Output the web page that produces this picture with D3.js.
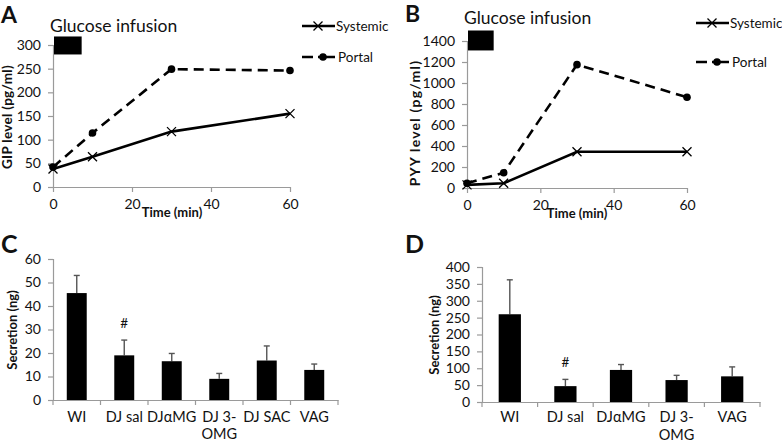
<!DOCTYPE html>
<html><head><meta charset="utf-8">
<script src="https://cdn.jsdelivr.net/npm/d3@7"></script>
<style>
body{margin:0;background:#fff;}
svg{display:block;}
text{font-family:Lato,"Open Sans",sans-serif;fill:#111;}
</style></head>
<body>
<svg id="c" width="782" height="442"></svg>
<script>
// ---- Data ----
const timeMin = [0, 10, 30, 60];
const gipSystemic = [38, 64, 117, 155];
const gipPortal = [42, 114, 249, 246];
const pyySystemic = [30, 45, 345, 345];
const pyyPortal = [45, 145, 1175, 865];
const gipTicks = [0, 50, 100, 150, 200, 250, 300];
const pyyTicks = [0, 200, 400, 600, 800, 1000, 1200, 1400];
const timeTicks = [0, 20, 40, 60];
const infusionA = {t0: 0, t1: 7, y0: 280, y1: 318};
const infusionB = {t0: 0, t1: 7, y0: 1310, y1: 1500};

const catsC = ["WI", "DJ sal", "DJ\u03B1MG", "DJ 3-\nOMG", "DJ SAC", "VAG"];
const meanC = [45.5, 19, 16.5, 9, 16.8, 12.8];
const errTopC = [53, 25.5, 19.8, 11.3, 23, 15.3];
const ticksC = [0, 10, 20, 30, 40, 50, 60];
const markC = ["", "#", "", "", "", ""];

const catsD = ["WI", "DJ sal", "DJ\u03B1MG", "DJ 3-\nOMG", "VAG"];
const meanD = [260, 47, 95, 65, 76];
const errTopD = [362, 67, 111, 79, 104];
const ticksD = [0, 50, 100, 150, 200, 250, 300, 350, 400];
const markD = ["", "#", "", "", ""];

const svg = d3.select("#c");
const AXC = "#9a9a9a";

function styleAxis(g){
  g.select(".domain").attr("stroke", AXC).attr("stroke-width", 1.2);
  g.selectAll(".tick line").attr("stroke", AXC).attr("stroke-width", 1.2);
  g.selectAll(".tick text").attr("font-family", "Lato, 'Open Sans', sans-serif").attr("fill", "#111")
    .attr("font-size", 14);
}

function xMarker(g, x, y, s){
  g.append("path").attr("d", `M${x-s},${y-s}L${x+s},${y+s}M${x-s},${y+s}L${x+s},${y-s}`)
    .attr("stroke", "#000").attr("stroke-width", 1.3).attr("fill", "none");
}

function linePanel(o){
  const g = svg.append("g");
  const x = d3.scaleLinear().domain([0, 60]).range([o.x0, o.x1]);
  const y = d3.scaleLinear().domain([0, o.ymax]).range([o.y0, o.y1]);
  const ya = g.append("g").attr("transform", `translate(${o.x0},0)`)
    .call(d3.axisLeft(y).tickValues(o.yTicks).tickSize(5).tickPadding(7).tickFormat(d3.format("d")));
  styleAxis(ya);
  const xa = g.append("g").attr("transform", `translate(0,${o.y0})`)
    .call(d3.axisBottom(x).tickValues(timeTicks).tickSize(5).tickPadding(7).tickSizeOuter(0));
  styleAxis(xa);
  // infusion bar
  g.append("rect").attr("x", x(o.inf.t0)+1).attr("y", y(o.inf.y1))
    .attr("width", x(o.inf.t1)-x(o.inf.t0)).attr("height", y(o.inf.y0)-y(o.inf.y1)).attr("fill", "#000");
  const line = d3.line().x((d,i)=>x(timeMin[i])).y(d=>y(d));
  g.append("path").attr("d", line(o.portal)).attr("fill", "none").attr("stroke", "#000")
    .attr("stroke-width", 2.6).attr("stroke-dasharray", "10,6");
  g.append("path").attr("d", line(o.systemic)).attr("fill", "none").attr("stroke", "#000")
    .attr("stroke-width", 2.6);
  o.portal.forEach((d,i)=>g.append("circle").attr("cx", x(timeMin[i])).attr("cy", y(d)).attr("r", 3.8).attr("fill", "#000"));
  o.systemic.forEach((d,i)=>xMarker(g, x(timeMin[i]), y(d), 4.5));
  // titles
  g.append("text").attr("x", o.labX).attr("y", o.labY).text(o.label)
    .attr("font-family", "Liberation Sans, Arial, sans-serif").attr("font-weight", "bold").attr("font-size", 23);
  g.append("text").attr("x", o.gX).attr("y", o.gY).text("Glucose infusion").attr("font-size", 17.5);
  g.append("text").attr("transform", `translate(${o.ylX},${o.ylY}) rotate(-90)`).attr("text-anchor", "middle")
    .attr("font-weight", "bold").attr("font-size", o.ylSize).attr("letter-spacing", o.ylSpace).text(o.ylabel);
  g.append("text").attr("x", o.tX).attr("y", o.tY).attr("text-anchor", "middle")
    .attr("font-weight", "bold").attr("font-size", 13).text("Time (min)");
  // legend
  const lg = g.append("g");
  lg.append("line").attr("x1", o.legX).attr("x2", o.legX+33).attr("y1", o.legY1).attr("y2", o.legY1)
    .attr("stroke", "#000").attr("stroke-width", 2.6);
  xMarker(lg, o.legX+16, o.legY1, 4.5);
  lg.append("text").attr("x", o.legX+34).attr("y", o.legY1+5).attr("font-size", 13.5).text("Systemic");
  lg.append("line").attr("x1", o.legX).attr("x2", o.legX+33).attr("y1", o.legY2).attr("y2", o.legY2)
    .attr("stroke", "#000").attr("stroke-width", 2.6).attr("stroke-dasharray", "11,5,20");
  lg.append("circle").attr("cx", o.legX+21).attr("cy", o.legY2).attr("r", 3.8).attr("fill", "#000");
  lg.append("text").attr("x", o.legX+36).attr("y", o.legY2+5).attr("font-size", 13.5).text("Portal");
}

function barPanel(o){
  const g = svg.append("g");
  const x = d3.scaleBand().domain(o.cats).range([o.x0, o.x1]).paddingInner(0).paddingOuter(0);
  const y = d3.scaleLinear().domain([0, o.ymax]).range([o.y0, o.y1]);
  const ya = g.append("g").attr("transform", `translate(${o.x0},0)`)
    .call(d3.axisLeft(y).tickValues(o.yTicks).tickSize(5).tickPadding(7));
  styleAxis(ya);
  // x axis line with boundary ticks
  const xa = g.append("g").attr("transform", `translate(0,${o.y0})`)
    .call(d3.axisBottom(x).tickSize(0).tickPadding(12).tickFormat(""));
  styleAxis(xa);
  const bounds = o.cats.map(c=>x(c)).concat([o.x1]);
  xa.selectAll(".bt").data(bounds).join("line").attr("class", "bt")
    .attr("x1", d=>d).attr("x2", d=>d).attr("y1", 0).attr("y2", 5).attr("stroke", AXC).attr("stroke-width", 1.2);
  const bw = x.bandwidth()*o.barFrac;
  // error bars
  o.cats.forEach((c,i)=>{
    const cx = x(c)+x.bandwidth()/2;
    g.append("line").attr("x1", cx).attr("x2", cx).attr("y1", y(o.mean[i])).attr("y2", y(o.err[i]))
      .attr("stroke", "#555").attr("stroke-width", 1.4);
    g.append("line").attr("x1", cx-3).attr("x2", cx+3).attr("y1", y(o.err[i])).attr("y2", y(o.err[i]))
      .attr("stroke", "#555").attr("stroke-width", 1.4);
  });
  g.selectAll(".bar").data(o.mean).join("rect").attr("class", "bar")
    .attr("x", (d,i)=>x(o.cats[i])+(x.bandwidth()-bw)/2).attr("width", bw)
    .attr("y", d=>y(d)).attr("height", d=>y(0)-y(d)).attr("fill", "#000");
  // marks (#)
  o.cats.forEach((c,i)=>{
    if(o.marks[i]) g.append("text").attr("x", x(c)+x.bandwidth()/2).attr("y", y(o.err[i])-12)
      .attr("text-anchor", "middle").attr("font-size", 13.5).text(o.marks[i]);
  });
  // category labels
  o.cats.forEach(c=>{
    const parts = c.split("\n");
    const t = g.append("text").attr("x", x(c)+x.bandwidth()/2).attr("y", o.y0+o.catDy)
      .attr("text-anchor", "middle").attr("font-size", 14.5);
    parts.forEach((p,k)=>t.append("tspan").attr("x", x(c)+x.bandwidth()/2).attr("dy", k?17.5:0).text(p));
  });
  g.append("text").attr("x", o.labX).attr("y", o.labY).text(o.label)
    .attr("font-family", "Liberation Sans, Arial, sans-serif").attr("font-weight", "bold").attr("font-size", 25);
  g.append("text").attr("transform", `translate(${o.ylX},${o.ylY}) rotate(-90)`).attr("text-anchor", "middle")
    .attr("font-weight", "bold").attr("font-size", 13).text("Secretion (ng)");
}

linePanel({x0:53, x1:290, y0:187, y1:45, ymax:300, yTicks:gipTicks, systemic:gipSystemic, portal:gipPortal,
  inf:infusionA, label:"A", labX:1, labY:23, gX:50, gY:32, ylabel:"GIP level (pg/ml)", ylX:12, ylY:117,
  ylSize:13.5, ylSpace:0.3, tX:172, tY:217, legX:302, legY1:26, legY2:57});
linePanel({x0:467, x1:687, y0:188, y1:41, ymax:1400, yTicks:pyyTicks, systemic:pyySystemic, portal:pyyPortal,
  inf:infusionB, label:"B", labX:405, labY:22, gX:464, gY:24, ylabel:"PYY level (pg/ml)", ylX:420, ylY:123,
  ylSize:14, ylSpace:1.2, tX:577, tY:218, legX:696, legY1:23, legY2:62});
barPanel({x0:53, x1:338, y0:400, y1:259, ymax:60, yTicks:ticksC, cats:catsC, mean:meanC, err:errTopC, marks:markC,
  barFrac:0.42, catDy:21.5, label:"C", labX:1, labY:253, ylX:17, ylY:330});
barPanel({x0:482, x1:760, y0:402, y1:267, ymax:400, yTicks:ticksD, cats:catsD, mean:meanD, err:errTopD, marks:markD,
  barFrac:0.40, catDy:20, label:"D", labX:405, labY:253, ylX:439, ylY:335});
</script>
</body></html>
